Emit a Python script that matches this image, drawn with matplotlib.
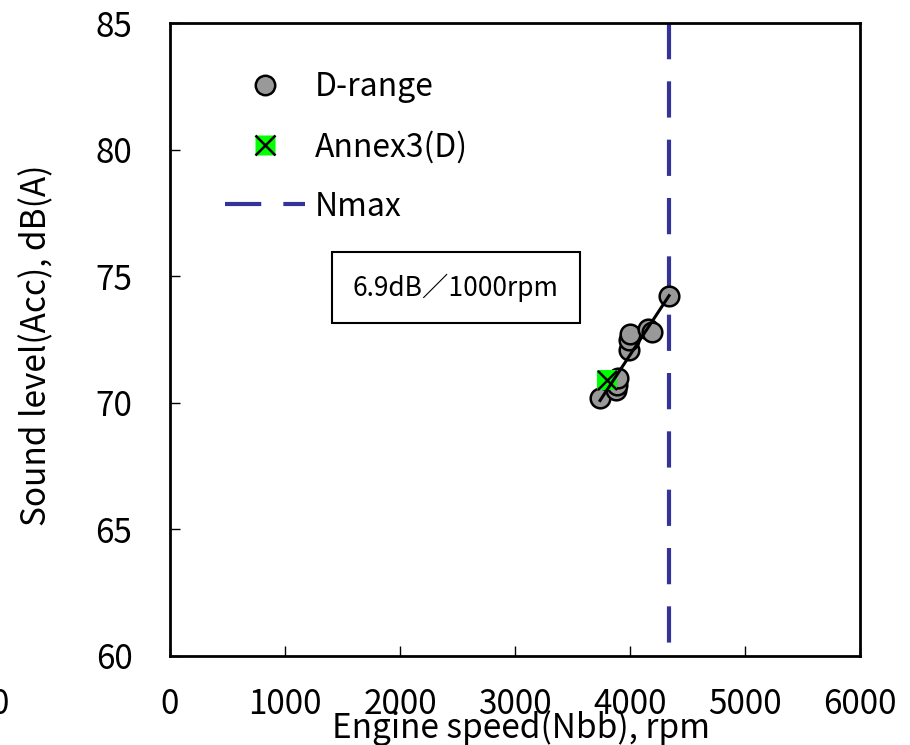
import matplotlib
matplotlib.use("Agg")
import matplotlib.pyplot as plt
from matplotlib.lines import Line2D
import numpy as np

# measured points, D range
d_rpm = [3740, 3870, 3880, 3890, 3900, 3990, 3990, 4000, 4160, 4190, 4340]
d_db = [70.2, 70.8, 70.5, 70.7, 71.0, 72.1, 72.5, 72.7, 72.9, 72.8, 74.2]
# Annex 3 point
annex_rpm = [3800]
annex_db = [70.9]
nmax_rpm = 4340
slope_db_per_1000 = 6.9

x_ticks = [0, 1000, 2000, 3000, 4000, 5000, 6000]
y_ticks = [60, 65, 70, 75, 80, 85]

jp_font = ["Noto Sans CJK JP", "DejaVu Sans"]

fig = plt.figure(figsize=(9.1, 7.45), dpi=100)
ax = fig.add_axes([0.1868, 0.1195, 0.7582, 0.8495])

ax.set_xlim(0, 6000)
ax.set_ylim(60, 85)

navy = "#333399"
# Nmax line drawn top-down so the dash pattern starts at the top
ax.plot([nmax_rpm, nmax_rpm], [y_ticks[-1], y_ticks[0]], color=navy, lw=3,
        dashes=(8.7, 5.3), zorder=2, clip_on=False)

ax.scatter(d_rpm, d_db, s=200, facecolor="#999999", edgecolor="black",
           linewidth=1.8, zorder=3)
ax.scatter(annex_rpm, annex_db, s=190, marker="s", facecolor="#00ff00",
           edgecolor="none", zorder=4)
ax.scatter(annex_rpm, annex_db, s=190, marker="x", color="black",
           linewidth=1.8, zorder=5)

# fitted line with the stated slope through the mean point
xm, ym = np.mean(d_rpm), np.mean(d_db)
fx = np.array([min(d_rpm), max(d_rpm)])
fy = ym + slope_db_per_1000 * (fx - xm) / 1000
ax.plot(fx, fy, color="black", lw=2.2, zorder=6)

ax.text(2486, 74.55, f"{slope_db_per_1000}dB／1000rpm", ha="center", va="center",
        fontsize=19, family=jp_font,
        bbox=dict(boxstyle="square,pad=0.8", facecolor="white",
                  edgecolor="black", linewidth=1.5))

ax.set_xticks(x_ticks)
ax.set_yticks(y_ticks)
ax.tick_params(direction="in", length=7, width=1, labelsize=24)
ax.tick_params(axis="x", pad=22)
ax.tick_params(axis="y", pad=27)
for lab in ax.get_xticklabels() + ax.get_yticklabels():
    lab.set_family(jp_font)
for sp in ax.spines.values():
    sp.set_linewidth(2)

ax.set_xlabel("Engine speed(Nbb), rpm", fontsize=24, family=jp_font)
ax.xaxis.set_label_coords(0.509, -0.114)
ax.xaxis.label.set_va("center")
ax.set_ylabel("Sound level(Acc), dB(A)", fontsize=24, family=jp_font)
ax.yaxis.set_label_coords(-0.193, 0.491)
ax.yaxis.label.set_va("center")

handles = [
    Line2D([], [], ls="none", marker="o", ms=14, mfc="#999999", mec="black", mew=1.8),
    (Line2D([], [], ls="none", marker="s", ms=14, mfc="#00ff00", mec="none"),
     Line2D([], [], ls="none", marker="x", ms=14, mec="black", mew=1.8)),
    Line2D([], [], color=navy, lw=3, dashes=(8.7, 5.3)),
]
ax.legend(handles, ["D-range", "Annex3(D)", "Nmax"], loc="upper left",
          bbox_to_anchor=(0.038, 0.969), frameon=False, prop={"family": jp_font, "size": 23},
          handlelength=2.5, handletextpad=0.3, labelspacing=0.85)

# leftover tick label at the far left edge
fig.text(-0.001, 0.054, "0", ha="center", va="center", fontsize=24, family=jp_font)

fig.savefig("out.png", dpi=100)
